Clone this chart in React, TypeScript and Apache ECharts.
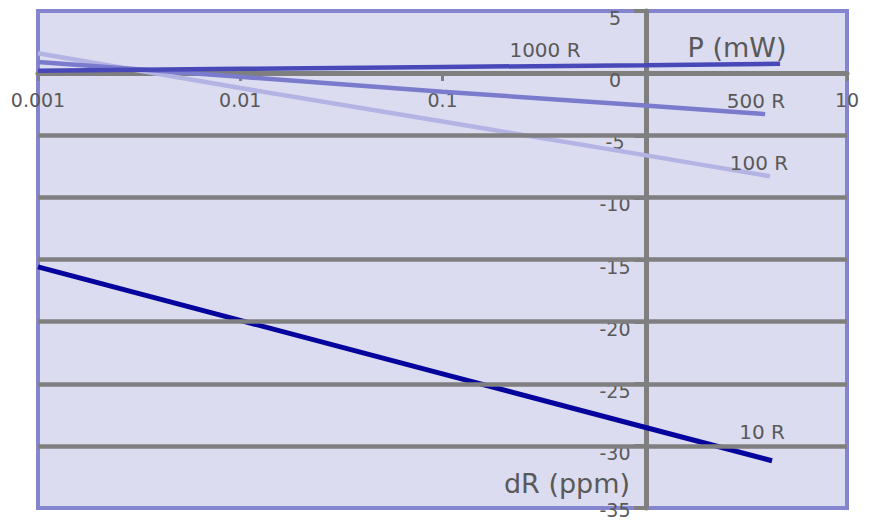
import React, { useEffect, useRef } from "react";
import * as echarts from "echarts";

// Tick labels of the logarithmic power axis
const X_TICK_VALUES = [0.001, 0.01, 0.1, 1, 10];
const X_TICK_LABELS = ["0.001", "0.01", "0.1", "", "10"];

// Horizontal grid values of the dR axis
const GRID_VALUES = [-5, -10, -15, -20, -25, -30];
const Y_MIN = -35;

// Series: power (mW) and resistance drift (ppm)
const X_10R = [0.001, 0.01, 0.1, 1, 4.26];
const Y_10R = [-15.6, -19.9, -24.2, -28.5, -31.2];
const X_100R = [0.001, 0.01, 0.1, 1, 4.16];
const Y_100R = [1.6, -1.2, -3.9, -6.6, -8.3];
const X_500R = [0.001, 0.01, 0.1, 1, 3.94];
const Y_500R = [0.9, -0.3, -1.5, -2.6, -3.3];
const X_1000R = [0.001, 0.01, 0.1, 1, 4.67];
const Y_1000R = [0.2, 0.35, 0.5, 0.63, 0.75];

const SERIES_NAMES = ["10 R", "100 R", "500 R", "1000 R"];
const SERIES_COLORS = ["#05059e", "#b3b3e4", "#7b7bcd", "#4848b8"];

const FONT = "DejaVu Sans";
const TEXT = "#595959";
const GRAY = "#7f7f7f";

function zip(xs: number[], ys: number[]) {
  return xs.map((x, i) => [x, ys[i]]);
}

export default function App() {
  const ref = useRef<HTMLDivElement>(null);
  useEffect(() => {
    if (!ref.current) return;
    const chart = echarts.init(ref.current, null, { renderer: "svg" });
    const datasets = [
      zip(X_10R, Y_10R),
      zip(X_100R, Y_100R),
      zip(X_500R, Y_500R),
      zip(X_1000R, Y_1000R),
    ];
    const option: any = {
      animation: false,
      grid: {
        left: 38,
        right: 25,
        top: 11,
        bottom: 15,
        containLabel: false,
        outerBoundsMode: "none",
        show: true,
        backgroundColor: "#dcdcf1",
        borderColor: "#8585cf",
        borderWidth: 4,
      },
      xAxis: {
        type: "log",
        logBase: 10,
        min: 0.001,
        max: 10,
        position: "bottom",
        offset: -435,
        axisLine: { onZero: false, lineStyle: { color: GRAY, width: 5 } },
        axisTick: { show: true, length: 8, lineStyle: { color: GRAY, width: 3 } },
        splitLine: { show: false },
        minorTick: { show: false },
        axisLabel: {
          margin: 17,
          fontFamily: FONT,
          fontSize: 19,
          color: TEXT,
          formatter: (v: number) => {
            const idx = X_TICK_VALUES.findIndex((t) => Math.abs(Math.log10(t) - Math.log10(v)) < 1e-6);
            return idx >= 0 ? X_TICK_LABELS[idx] : "";
          },
        },
      },
      yAxis: {
        type: "value",
        min: Y_MIN,
        max: 5,
        interval: 5,
        position: "left",
        offset: -608,
        axisLine: { show: true, onZero: false, lineStyle: { color: GRAY, width: 5 } },
        axisTick: { show: true, length: 12, lineStyle: { color: GRAY, width: 4 } },
        splitLine: { show: false },
        axisLabel: {
          margin: 31,
          align: "center",
          verticalAlign: "top",
          lineHeight: 14,
          fontFamily: FONT,
          fontSize: 19,
          color: TEXT,
          formatter: (v: number) => (v === Y_MIN ? `{e|${v}}` : String(v)),
          rich: {
            e: { lineHeight: 4, fontFamily: FONT, fontSize: 19, color: TEXT },
          },
        },
      },
      series: [
        {
          type: "line",
          data: [],
          z: 1,
          silent: true,
          markLine: {
            silent: true,
            symbol: "none",
            label: { show: false },
            lineStyle: { color: GRAY, width: 4.5, type: "solid" },
            data: GRID_VALUES.map((v) => ({ yAxis: v })),
          },
        },
        ...datasets.map((d, i) => ({
          name: SERIES_NAMES[i],
          type: "line",
          data: d,
          z: 3,
          showSymbol: false,
          symbol: "none",
          lineStyle: { color: SERIES_COLORS[i], width: i === 0 ? 5 : 4.5 },
        })),
      ],
      graphic: [
        { type: "text", x: 545, y: 50, z: 10, style: { text: SERIES_NAMES[3], font: `20px '${FONT}'`, fill: TEXT, align: "center", verticalAlign: "middle" } },
        { type: "text", x: 756, y: 101, z: 10, style: { text: SERIES_NAMES[2], font: `20px '${FONT}'`, fill: TEXT, align: "center", verticalAlign: "middle" } },
        { type: "text", x: 759, y: 163, z: 10, style: { text: SERIES_NAMES[1], font: `20px '${FONT}'`, fill: TEXT, align: "center", verticalAlign: "middle" } },
        { type: "text", x: 762, y: 432, z: 10, style: { text: SERIES_NAMES[0], font: `20px '${FONT}'`, fill: TEXT, align: "center", verticalAlign: "middle" } },
        { type: "text", x: 737, y: 47, z: 10, style: { text: "P (mW)", font: `27px '${FONT}'`, fill: TEXT, align: "center", verticalAlign: "middle" } },
        { type: "text", x: 567, y: 483, z: 10, style: { text: "dR (ppm)", font: `27px '${FONT}'`, fill: TEXT, align: "center", verticalAlign: "middle" } },
      ],
    };
    chart.setOption(option);
    return () => chart.dispose();
  }, []);
  return (
    <div
      ref={ref}
      style={{ position: "absolute", left: 0, top: 0, width: 872, height: 523 }}
    />
  );
}
